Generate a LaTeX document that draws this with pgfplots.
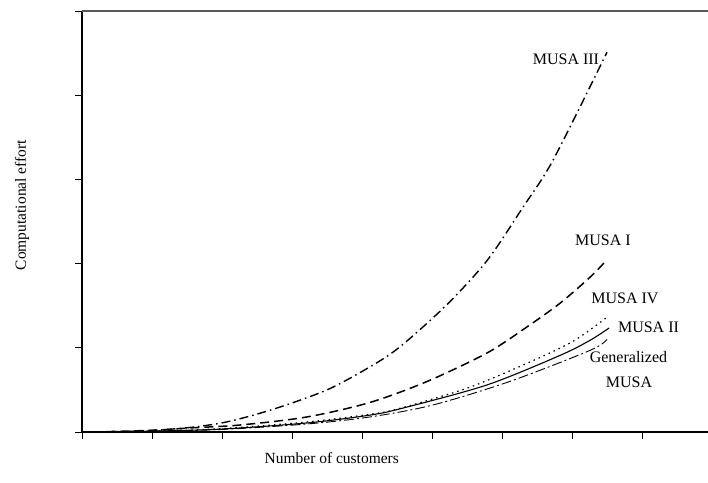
\documentclass[border=0pt]{standalone}
\usepackage{fontspec}
\setmainfont{Liberation Serif}
\usepackage{pgfplots}
\pgfplotsset{compat=1.18}
\newcommand{\lbl}{\fontsize{16bp}{19bp}\selectfont}
\begin{document}
\begin{tikzpicture}
\begin{axis}[
  name=ax,
  scale only axis,
  width=626bp, height=421bp,
  xmin=0, xmax=8.943, ymin=0, ymax=5,
  axis x line*=bottom, axis y line*=left,
  axis line style={black, line width=1.1bp, -},
  xtick={0,1,2,3,4,5,6,7,8}, ytick={0,1,2,3,4,5},
  xticklabels={}, yticklabels={},
  tick align=outside, major tick length=7bp,
  tick style={black, line width=0.9bp},
  clip=false,
  xlabel={Number of customers},
  ylabel={Computational effort},
  label style={font=\fontsize{15.5bp}{18bp}\selectfont},
  xlabel style={at={(axis description cs:0.399,0)}, anchor=center, yshift=-26bp},
  ylabel style={at={(axis description cs:-0.0958,0.539)}, anchor=center},
]
\draw[black!65, line width=1.1bp] (rel axis cs:0,1) -- (rel axis cs:1,1);
% MUSA III
\addplot[black, line width=1.4bp, smooth, dash pattern=on 9bp off 4bp on 1.5bp off 4bp] coordinates {
(0.15,0) (0.83,0.012) (1.5,0.05) (2.07,0.12) (2.73,0.27) (3.5,0.50) (4.11,0.772) (4.54,1.01) (5.21,1.51) (5.79,2.04) (6.3,2.67) (6.73,3.23) (7.5,4.51)};
% MUSA I
\addplot[black, line width=1.5bp, smooth, dash pattern=on 9bp off 5bp] coordinates {
(0.15,0) (1.0,0.02) (1.54,0.048) (2.26,0.083) (3.21,0.178) (4.11,0.35) (4.93,0.60) (5.79,0.94) (6.36,1.25) (6.83,1.53) (7.26,1.84) (7.46,2.01)};
% MUSA IV
\addplot[black, line width=1.2bp, smooth, dash pattern=on 1.5bp off 4bp] coordinates {
(0.15,0) (1.0,0.01) (2.0,0.04) (3.21,0.119) (4.11,0.21) (4.54,0.28) (5.5,0.52) (6.26,0.78) (7.0,1.07) (7.51,1.37)};
% MUSA II
\addplot[black, line width=1.1bp, smooth] coordinates {
(0.15,0) (1.0,0.01) (2.0,0.035) (3.21,0.107) (4.11,0.20) (4.59,0.285) (5.79,0.56) (6.83,0.91) (7.26,1.09) (7.53,1.235)};
% Generalized MUSA
\addplot[black, line width=0.9bp, smooth, dash pattern=on 10bp off 3bp on 2bp off 3bp] coordinates {
(0.15,0) (1.0,0.008) (2.0,0.03) (3.21,0.095) (4.11,0.178) (5.01,0.32) (6.11,0.60) (7.26,0.97) (7.5,1.10)};
\node[font=\lbl] at (axis cs:6.914,4.43) {MUSA III};
\node[font=\lbl] at (axis cs:7.443,2.28) {MUSA I};
\node[font=\lbl] at (axis cs:7.757,1.591) {MUSA IV};
\node[font=\lbl] at (axis cs:8.093,1.247) {MUSA II};
\node[font=\lbl] at (axis cs:7.807,0.891) {Generalized};
\node[font=\lbl] at (axis cs:7.814,0.594) {MUSA};
\end{axis}
\pgfresetboundingbox
\path[use as bounding box] ([shift={(-82bp,-51bp)}]ax.south west) rectangle ([shift={(0bp,11bp)}]ax.north east);
\end{tikzpicture}
\end{document}
